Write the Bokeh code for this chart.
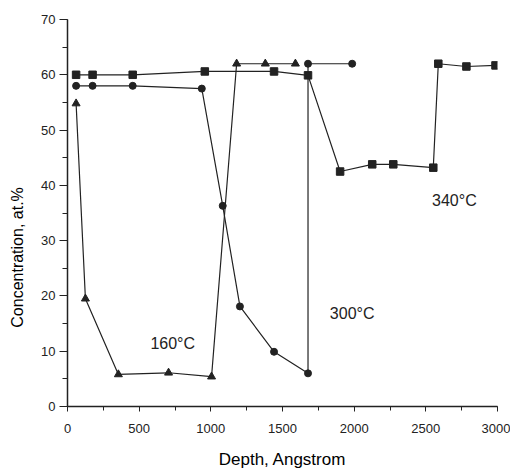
from bokeh.plotting import figure
from bokeh.models import Range1d, SingleIntervalTicker, Label
from bokeh.embed import file_html
from bokeh.resources import INLINE

# 160°C series (triangles)
t160_x = [60, 125, 355, 705, 1005, 1180, 1380, 1590]
t160_y = [54.8, 19.5, 5.8, 6.1, 5.4, 62.0, 62.0, 62.0]

# 300°C series (circles)
t300_x = [60, 175, 455, 937, 1083, 1203, 1441, 1678, 1678, 1986]
t300_y = [58.0, 58.0, 58.0, 57.5, 36.3, 18.1, 9.9, 6.0, 62.0, 62.0]

# 340°C series (squares)
t340_x = [60, 175, 455, 958, 1441, 1678, 1902, 2126, 2273, 2552, 2587, 2783, 2986]
t340_y = [60.0, 60.0, 60.0, 60.6, 60.6, 59.9, 42.5, 43.8, 43.8, 43.2, 62.0, 61.5, 61.7]

labels_text = ["160°C", "300°C", "340°C"]
labels_x = [734, 1986, 2699]
labels_y = [11.4, 16.9, 37.2]

FONT = "Liberation Sans"
INK = "#222222"

p = figure(width=510, height=473, output_backend="svg", toolbar_location=None,
           x_range=Range1d(0, 3000), y_range=Range1d(0, 70),
           min_border_left=67, min_border_right=13, min_border_top=19, min_border_bottom=67)
p.outline_line_color = None
p.xgrid.visible = False
p.ygrid.visible = False
p.background_fill_color = "#ffffff"

p.line(t160_x, t160_y, color=INK, line_width=1.2)
p.scatter(t160_x, t160_y, marker="triangle", size=8, color=INK)

p.line(t300_x, t300_y, color=INK, line_width=1.2)
p.scatter(t300_x, t300_y, marker="circle", size=7, color=INK)

p.line(t340_x, t340_y, color=INK, line_width=1.2)
p.scatter(t340_x, t340_y, marker="square", size=7.5, color=INK)

for txt, lx, ly in zip(labels_text, labels_x, labels_y):
    p.add_layout(Label(x=lx, y=ly, text=txt, text_font=FONT, text_font_size="16px",
                       text_align="center", text_baseline="middle", text_color=INK))

p.xaxis.ticker = SingleIntervalTicker(interval=500, num_minor_ticks=2)
p.yaxis.ticker = SingleIntervalTicker(interval=10, num_minor_ticks=2)
for ax in (p.xaxis[0], p.yaxis[0]):
    ax.axis_line_color = INK
    ax.axis_line_width = 1.5
    ax.major_tick_line_color = INK
    ax.minor_tick_line_color = INK
    ax.major_tick_in = 0
    ax.minor_tick_in = 0
    ax.major_label_text_font = FONT
    ax.major_label_text_font_size = "13px"
    ax.major_label_text_color = INK
p.xaxis.major_tick_out = 5
p.xaxis.minor_tick_out = 4
p.yaxis.major_tick_out = 8
p.yaxis.minor_tick_out = 5
p.xaxis.major_label_standoff = 12
p.yaxis.major_label_standoff = 4

p.xaxis.axis_label = "Depth, Angstrom"
p.xaxis.axis_label_text_font = FONT
p.xaxis.axis_label_text_font_size = "17px"
p.xaxis.axis_label_text_font_style = "normal"
p.xaxis.axis_label_text_color = "#000000"
p.xaxis.axis_label_standoff = 14

# trailing no-break spaces shift the centred label down, as in the original
p.yaxis.axis_label = "Concentration, at.%" + "\u00a0" * 20
p.yaxis.axis_label_text_font = FONT
p.yaxis.axis_label_text_font_size = "16px"
p.yaxis.axis_label_text_font_style = "normal"
p.yaxis.axis_label_text_color = "#000000"
p.yaxis.axis_label_standoff = 12

open("out.html", "w").write(file_html(p, INLINE))
